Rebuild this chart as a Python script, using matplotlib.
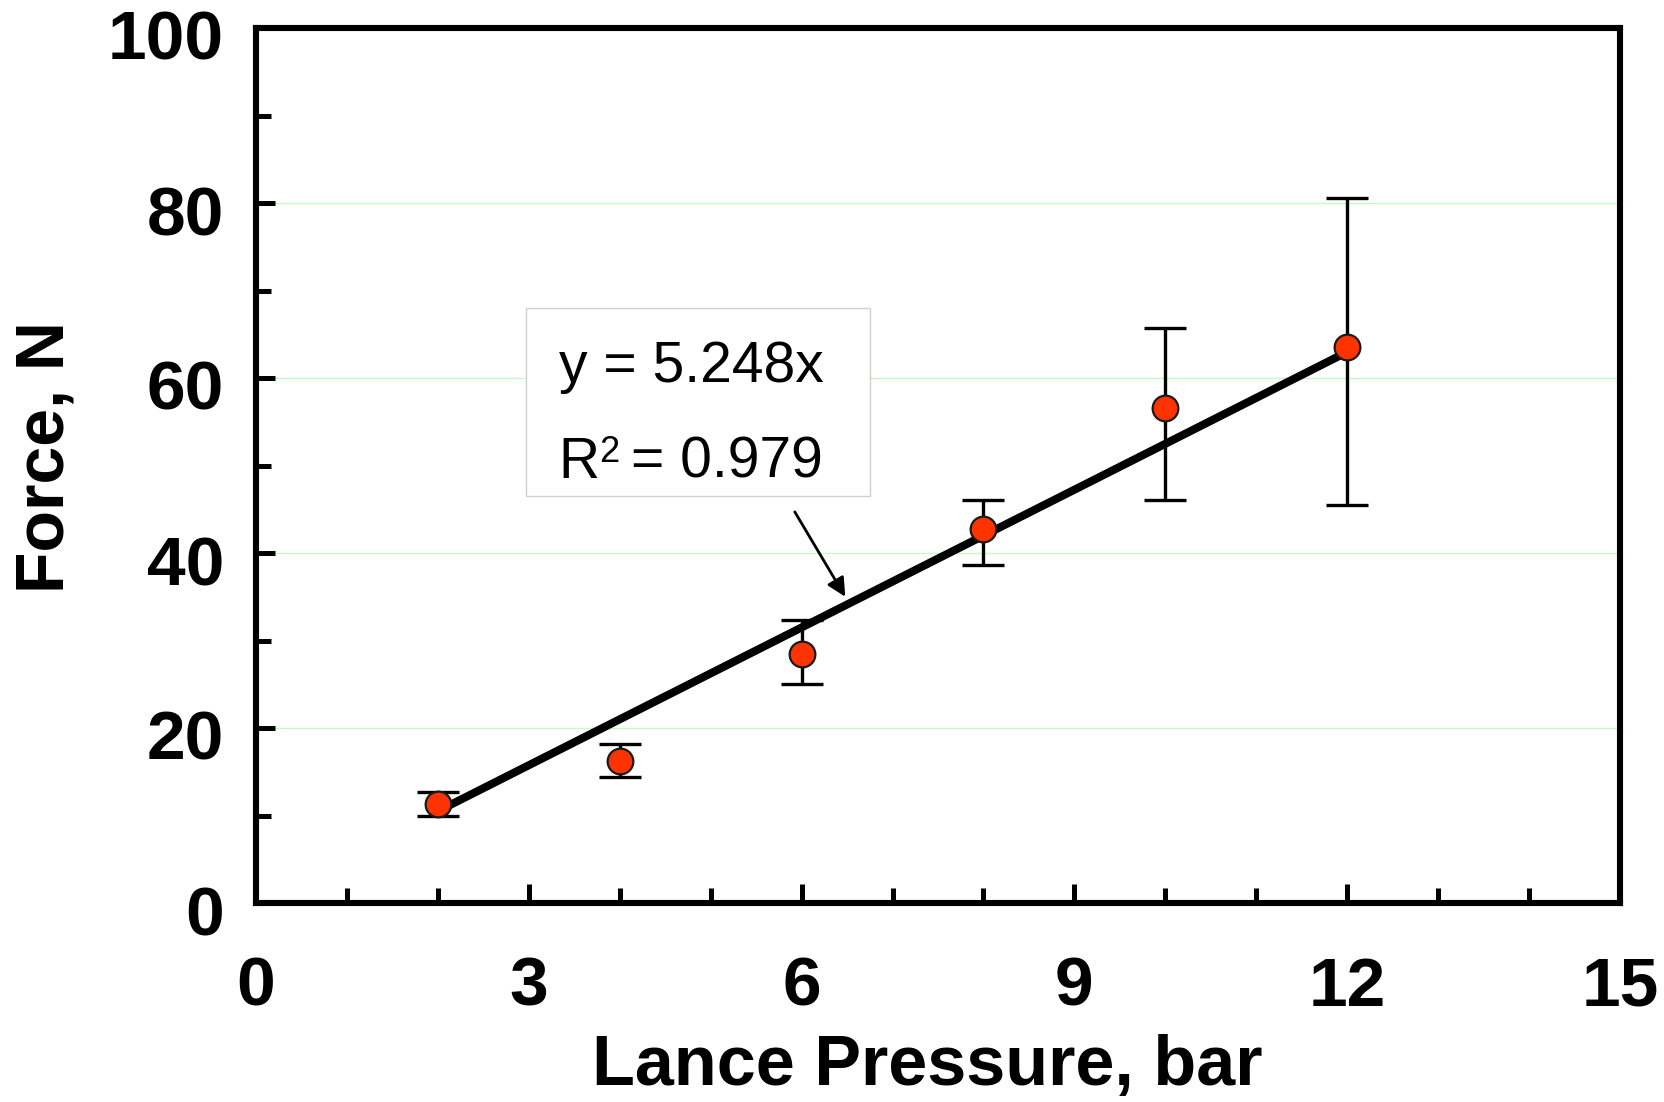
import matplotlib
matplotlib.use("Agg")
import matplotlib.pyplot as plt
import matplotlib.transforms as mtransforms
from matplotlib.patches import Rectangle
import numpy as np

# Data
pressure = [2, 4, 6, 8, 10, 12]
force = [11.3, 16.2, 28.5, 42.7, 56.6, 63.6]
err_low = [1.3, 1.8, 3.5, 4.1, 10.5, 18.1]
err_high = [1.4, 2.0, 3.9, 3.4, 9.1, 17.0]
slope = 5.248
r2 = 0.979
fit_range = [2, 12]
x_ticks = [0, 3, 6, 9, 12, 15]
y_ticks = [0, 20, 40, 60, 80, 100]

plt.rcParams['font.family'] = ['Liberation Sans', 'DejaVu Sans']

fig = plt.figure(figsize=(16.65, 11.02), dpi=100)
ax = fig.add_axes([256/1665, 1 - 903/1102, 1364/1665, 875/1102])

# grid
for yv in y_ticks[1:-1]:
    ax.axhline(yv, color='#c8f8c8', lw=1.0, zorder=0)

# regression line
fx = np.array(fit_range, dtype=float)
ax.plot(fx, slope * fx, color='black', lw=5.8, solid_capstyle='butt', zorder=2)

# error bars and points
ax.errorbar(pressure, force, yerr=[err_low, err_high], fmt='none',
            ecolor='black', elinewidth=2.4, capsize=15, capthick=2.4, zorder=3)
ax.plot(pressure, force, 'o', ms=18.5, mfc='#ff3300', mec='#1a1a1a',
        mew=1.6, zorder=4)

ax.set_xlim(0, 15)
ax.set_ylim(0, 100)
ax.set_xticks(x_ticks)
ax.set_yticks(y_ticks)
ax.set_xticks(np.arange(0, 16, 1), minor=True)
ax.set_yticks(np.arange(0, 101, 10), minor=True)
ax.tick_params(which='major', direction='in', length=14, width=3.6,
               labelsize=50, pad=0)
ax.tick_params(which='minor', direction='in', length=11, width=3.6)
ax.tick_params(axis='x', which='major', pad=38)
ax.tick_params(axis='y', which='major', pad=23)
for lab in ax.get_xticklabels() + ax.get_yticklabels():
    lab.set_fontweight('bold')
ydown = mtransforms.ScaledTranslation(0, -7/100, fig.dpi_scale_trans)
for lab in ax.get_yticklabels():
    lab.set_transform(lab.get_transform() + ydown)

for sp in ax.spines.values():
    sp.set_linewidth(4.4)

ax.set_xlabel('Lance Pressure, bar', fontsize=50.5, fontweight='bold',
              labelpad=10, x=0.492)
ax.set_ylabel('Force, N', fontsize=49, fontweight='bold', labelpad=22, y=0.51)

# equation box
ax.add_patch(Rectangle((0.198, 0.465), 0.252, 0.215, transform=ax.transAxes,
                       facecolor='white', edgecolor='#d0d0d0', lw=1.0, zorder=5))
ax.text(0.222, 0.596, f'y = {slope}x', transform=ax.transAxes, fontsize=41,
        ha='left', va='baseline', zorder=6)
r_anchor = (0.222, 0.486)
ax.annotate('R', xy=r_anchor, xycoords='axes fraction', xytext=(0, 0),
            textcoords='offset points', fontsize=41, ha='left', va='baseline',
            zorder=6)
ax.annotate('2', xy=r_anchor, xycoords='axes fraction', xytext=(28.8, 11.0),
            textcoords='offset points', fontsize=26, ha='left', va='baseline',
            zorder=6)
ax.annotate(f'= {r2}', xy=r_anchor, xycoords='axes fraction', xytext=(52.0, 0),
            textcoords='offset points', fontsize=41, ha='left', va='baseline',
            zorder=6)
ax.annotate('', xy=(0.432, 0.350), xytext=(0.395, 0.447),
            xycoords='axes fraction', textcoords='axes fraction',
            arrowprops=dict(arrowstyle='-|>', color='black', lw=2,
                            mutation_scale=28, shrinkA=0, shrinkB=0), zorder=6)

fig.savefig('out.png', dpi=100, facecolor='white')
